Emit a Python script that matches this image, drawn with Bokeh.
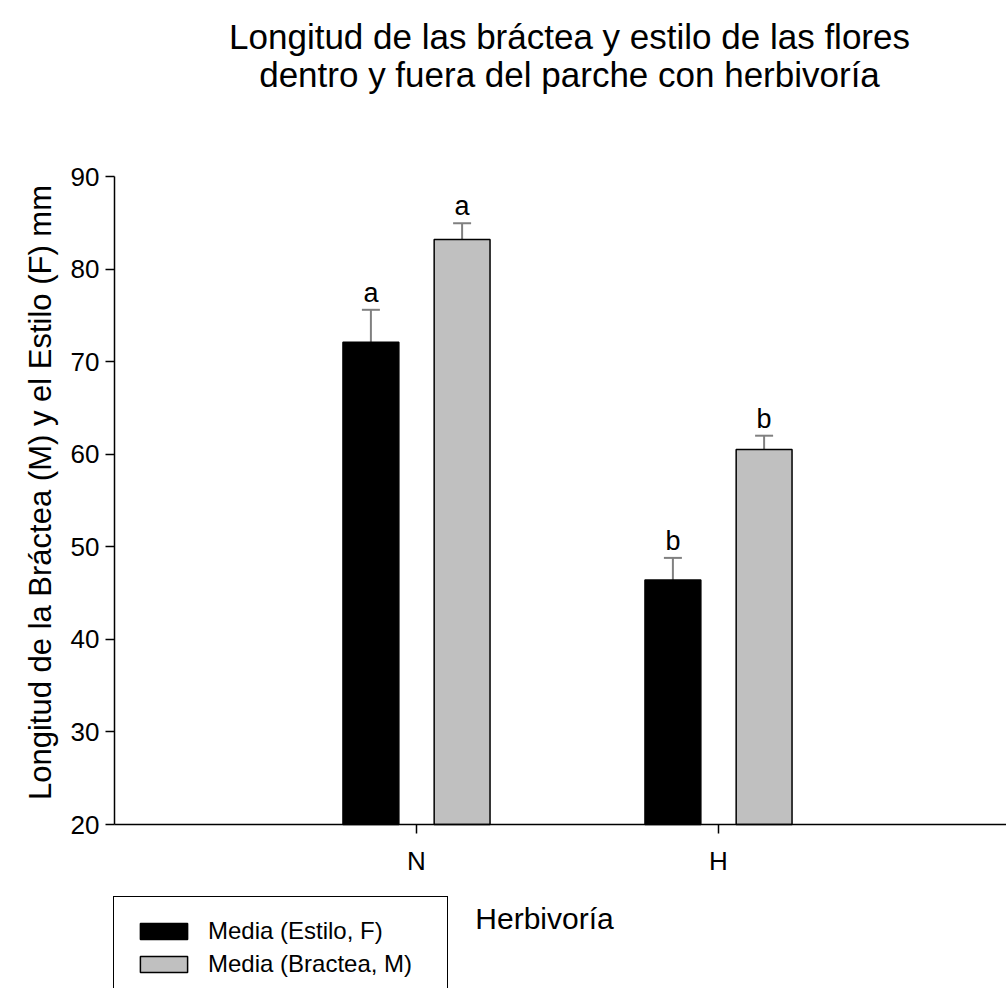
import math
from bokeh.plotting import figure
from bokeh.models import (Range1d, FixedTicker, Whisker, TeeHead, Label, Legend,
                          LegendItem, ColumnDataSource, LinearAxis)
from bokeh.core.properties import value
from bokeh.embed import file_html
from bokeh.resources import INLINE

# ---- data ----
groups = ["N", "H"]
estilo_mean = [72.1, 46.4]
estilo_err = [3.5, 2.4]
bractea_mean = [83.2, 60.5]
bractea_err = [1.75, 1.5]
estilo_letters = ["a", "b"]
bractea_letters = ["a", "b"]
y_ticks = [20, 30, 40, 50, 60, 70, 80, 90]

title_lines = ["Longitud de las bráctea y estilo de las flores",
               "dentro y fuera del parche con herbivoría"]
x_label = "Herbivoría"
y_label = "Longitud de la Bráctea (M) y el Estilo (F) mm"
legend_labels = ["Media (Estilo, F)", "Media (Bractea, M)"]

FONT = "Liberation Sans"
W, H = 1006, 988

# layout geometry (pixels on the canvas)
AX_LEFT = 114          # y axis line x
AX_BOTTOM = 824        # x axis line y
AX_TOP = 176           # y = 90
PX_X = 302.0           # pixels per category step
YMIN, YMAX = 20, 90
PX_Y = (AX_BOTTOM - AX_TOP) / (YMAX - YMIN)

xpos = [i + 1 for i in range(len(groups))]
off = 0.151
bw = 0.185

x_start = -AX_LEFT / PX_X
x_end = (W - AX_LEFT) / PX_X
y_start = YMIN - (H - AX_BOTTOM) / PX_Y
y_end = YMAX + AX_TOP / PX_Y

p = figure(width=W, height=H, output_backend="svg", toolbar_location=None,
           x_range=Range1d(x_start, x_end), y_range=Range1d(y_start, y_end),
           x_axis_location=None, y_axis_location=None, min_border=0)
p.outline_line_color = None
p.grid.visible = False
p.background_fill_color = "white"
p.border_fill_color = "white"

src_e = ColumnDataSource(dict(
    x=[x - off for x in xpos], top=estilo_mean,
    up=[m + e for m, e in zip(estilo_mean, estilo_err)],
    lo=[m - e for m, e in zip(estilo_mean, estilo_err)],
    lab=estilo_letters))
src_b = ColumnDataSource(dict(
    x=[x + off for x in xpos], top=bractea_mean,
    up=[m + e for m, e in zip(bractea_mean, bractea_err)],
    lo=[m - e for m, e in zip(bractea_mean, bractea_err)],
    lab=bractea_letters))

r_e = p.vbar(x="x", top="top", bottom=YMIN, width=bw, source=src_e,
             fill_color="#000000", line_color="#000000", line_width=1.5)
r_b = p.vbar(x="x", top="top", bottom=YMIN, width=bw, source=src_b,
             fill_color="#C0C0C0", line_color="#000000", line_width=1.5)

for src in (src_e, src_b):
    w = Whisker(base="x", upper="up", lower="lo", source=src,
                line_color="#808080", line_width=2,
                upper_head=TeeHead(size=18, line_color="#808080", line_width=2),
                lower_head=TeeHead(size=18, line_color="#808080", line_width=2))
    p.add_layout(w)
    p.text(x="x", y="up", text="lab", source=src, y_offset=-17,
           text_align="center", text_baseline="alphabetic",
           text_font=value(FONT), text_font_size="27px", text_color="black")

# axes fixed at the data origin (x=0, y=20)
xaxis = LinearAxis(fixed_location=YMIN, bounds=(0, x_end),
                   ticker=FixedTicker(ticks=xpos),
                   major_label_overrides={x: g for x, g in zip(xpos, groups)})
yaxis = LinearAxis(fixed_location=0, bounds=(YMIN, YMAX),
                   ticker=FixedTicker(ticks=y_ticks))
for ax in (xaxis, yaxis):
    ax.axis_line_color = "black"
    ax.axis_line_width = 1.5
    ax.major_tick_line_color = "black"
    ax.major_tick_line_width = 1.5
    ax.major_tick_in = 0
    ax.major_tick_out = 9
    ax.minor_tick_line_color = None
    ax.major_label_text_font = FONT
    ax.major_label_text_font_size = "26px"
    ax.major_label_text_color = "black"
xaxis.major_label_standoff = 12
yaxis.major_label_standoff = 6
p.add_layout(xaxis, "below")
p.add_layout(yaxis, "left")

# texts (screen units: from the canvas left and bottom)
def sy(cy):
    return H - cy

p.add_layout(Label(x=569, y=sy(36), x_units="screen", y_units="screen",
                   text=title_lines[0], text_align="center", text_baseline="alphabetic",
                   text_font=FONT, text_font_size="35px", text_color="black"))
p.add_layout(Label(x=569, y=sy(74), x_units="screen", y_units="screen",
                   text=title_lines[1], text_align="center", text_baseline="alphabetic",
                   text_font=FONT, text_font_size="35px", text_color="black"))
p.add_layout(Label(x=544, y=sy(918), x_units="screen", y_units="screen",
                   text=x_label, text_align="center", text_baseline="alphabetic",
                   text_font=FONT, text_font_size="30px", text_color="black"))
p.add_layout(Label(x=40, y=sy(492), x_units="screen", y_units="screen",
                   text=y_label, text_align="center", text_baseline="alphabetic",
                   angle=math.pi / 2,
                   text_font=FONT, text_font_size="31px", text_color="black"))

legend = Legend(items=[LegendItem(label=legend_labels[0], renderers=[r_e]),
                       LegendItem(label=legend_labels[1], renderers=[r_b])],
                location=(113, H - 999), orientation="vertical",
                glyph_width=59, glyph_height=20, label_standoff=15,
                label_width=219, label_height=20, spacing=5, padding=20, margin=0,
                label_text_font=FONT, label_text_font_size="24px",
                label_text_color="black",
                border_line_color="black", border_line_width=1.5, border_line_alpha=1.0,
                background_fill_color="white", background_fill_alpha=1.0)
p.add_layout(legend, "center")

open("out.html", "w").write(file_html(p, INLINE))
